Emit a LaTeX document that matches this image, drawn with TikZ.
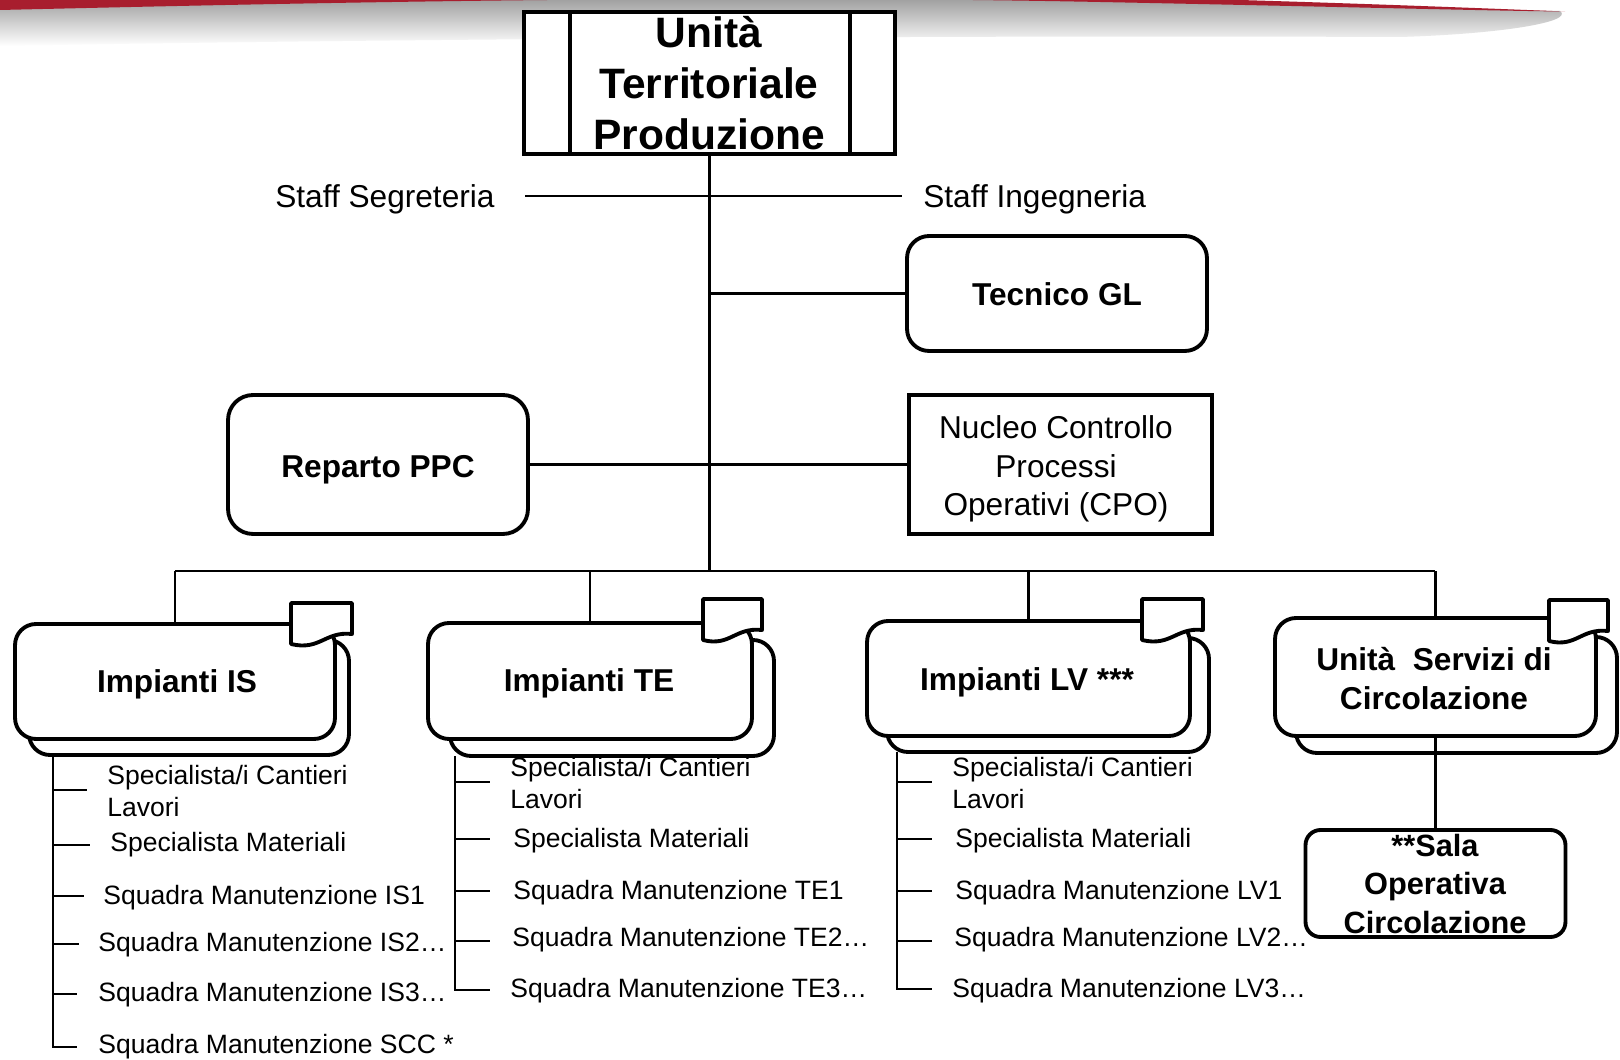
\documentclass[tikz,border=0pt]{standalone}
\usepackage{fontspec}
\setmainfont{Liberation Sans}
\usetikzlibrary{calc}
\definecolor{swred}{RGB}{168,30,46}
\begin{document}
\begin{tikzpicture}[x=0.02cm,y=-0.02cm,
  thickbox/.style={draw=black,line width=2.2pt,fill=white,inner sep=0pt},
  conn/.style={draw=black,line width=1.2pt},
  listline/.style={draw=black,line width=1.3pt},
  txt/.style={font=\fontsize{18}{22}\selectfont,inner sep=0pt,align=center},
  btxt/.style={font=\fontsize{18}{22}\selectfont\bfseries,inner sep=0pt,align=center},
  ltxt/.style={font=\fontsize{15.1}{18.2}\selectfont,inner sep=0pt,align=left,anchor=west},
  roundbox/.style={thickbox,rounded corners=0.42cm},
  tabshape/.style={draw=black,line width=2.2pt,fill=white,line join=round},
]
\useasboundingbox (0,0) rectangle (1620,1060);
\fill[white] (0,0) rectangle (1620,1060);
% header swoosh
\begin{scope}
  \clip (0,0) rectangle (1620,1060);
  \shade[top color=black!42,bottom color=white]
    (0,8) .. controls (300,2) and (700,-7) .. (1100,1)
    .. controls (1350,6) and (1500,10) .. (1560,11)
    .. controls (1575,22) and (1500,34) .. (1400,37)
    .. controls (900,35) and (300,40) .. (0,46) -- cycle;
  \fill[swred]
    (0,10) .. controls (300,3) and (700,-6) .. (1100,2)
    .. controls (1350,7) and (1500,11) .. (1565,11.5)
    .. controls (1450,7) and (1250,-1) .. (1000,-6) -- (0,-10) -- cycle;
\end{scope}

% top unit
\node[thickbox,minimum width=7.42cm,minimum height=2.84cm] (utp) at (709.5,83) {};
\node[inner sep=0pt,align=center,font=\fontsize{24.2}{29}\selectfont\bfseries] (utpl) at (709,83) {Unità\\Territoriale\\Produzione};
\draw[line width=2.2pt] ([xshift=0.96cm]utp.north west) -- ([xshift=0.96cm]utp.south west);
\draw[line width=2.2pt] ([xshift=-0.94cm]utp.north east) -- ([xshift=-0.94cm]utp.south east);

% staff
\node[txt,anchor=west] (sseg) at (275,199) {Staff Segreteria};
\node[txt,anchor=west] (sing) at (923,199) {Staff Ingegneria};
\coordinate (sl) at (525,196);
\coordinate (sr) at (902,196);
\draw[conn] (sl) -- (sr);

% main spine and bus
\coordinate (busC) at (709.5,571);
\coordinate (busL) at (175,571);
\coordinate (busR) at (1435,571);
\draw[conn] (utp.south) -- (busC);
\draw[conn] (busL) -- (busR);

% Tecnico GL
\node[roundbox,minimum width=6.0cm,minimum height=2.3cm,rounded corners=0.44cm] (tec) at (1057,293.5) {};
\node[btxt] (tecl) at (1057,294.5) {Tecnico GL};
\draw[conn] (tec.west) -- (tec.west -| busC);

% Reparto PPC and CPO
\node[roundbox,minimum width=6.0cm,minimum height=2.78cm,rounded corners=0.5cm] (ppc) at (378,464.5) {};
\node[btxt] (ppcl) at (378,469.5) {Reparto PPC};
\node[thickbox,minimum width=6.06cm,minimum height=2.78cm] (cpo) at (1060.5,464.5) {};
\node[txt] (cpol) at (1056,469) {Nucleo Controllo\\Processi\\Operativi (CPO)};
\draw[conn] (ppc.east) -- (cpo.west);

% ---------- Impianti IS
\draw[roundbox] (29,640) rectangle (349,755);
\node[roundbox,minimum width=6.4cm,minimum height=2.3cm] (is) at (175,681.5) {};
\node[btxt] (isl) at (177,684.5) {Impianti IS};
\draw[tabshape] (291,644) -- (291,603) -- (352,603) -- (352,634) .. controls (325,631) and (320,651) .. (291,644) -- cycle;
\draw[conn] (is.north) -- (is.north |- busL);

% ---------- Impianti TE
\draw[roundbox] (450,640) rectangle (774,756);
\node[roundbox,minimum width=6.48cm,minimum height=2.32cm] (te) at (590,681) {};
\node[btxt] (tel) at (589,683) {Impianti TE};
\draw[tabshape] (703,640) -- (703,599) -- (762,599) -- (762,630) .. controls (735,627) and (730,647) .. (703,640) -- cycle;
\draw[conn] (te.north) -- (te.north |- busL);

% ---------- Impianti LV
\draw[roundbox] (887,638) rectangle (1209,752);
\node[roundbox,minimum width=6.46cm,minimum height=2.3cm] (lv) at (1028.5,678.5) {};
\node[btxt] (lvl) at (1027,682) {Impianti LV ***};
\draw[tabshape] (1142,640) -- (1142,599) -- (1203,599) -- (1203,630) .. controls (1176,627) and (1171,647) .. (1142,640) -- cycle;
\draw[conn] (lv.north) -- (lv.north |- busL);

% ---------- Unita Servizi di Circolazione
\draw[roundbox] (1296,637) rectangle (1617,753);
\node[roundbox,minimum width=6.42cm,minimum height=2.36cm] (usc) at (1435.5,677) {};
\node[btxt] (uscl) at (1434,678.5) {Unità\ \ Servizi di\\Circolazione};
\draw[tabshape] (1549,641) -- (1549,600) -- (1608,600) -- (1608,631) .. controls (1581,628) and (1576,648) .. (1549,641) -- cycle;
\draw[conn] (usc.north) -- (usc.north |- busR);

% Sala Operativa
\node[roundbox,minimum width=5.2cm,minimum height=2.14cm,rounded corners=0.3cm] (sala) at (1435.5,883.5) {};
\node[btxt,font=\fontsize{17.5}{21.7}\selectfont\bfseries] (salal) at (1435,884) {**Sala\\Operativa\\Circolazione};
\draw[conn] (usc.south) -- (sala.north);

% ---------- IS list
\coordinate (isv) at (53,755);
\coordinate (ist1) at (87,790);
\coordinate (ist2) at (90,845);
\coordinate (ist3) at (84,896);
\coordinate (ist4) at (79,944);
\coordinate (ist5) at (77,994);
\coordinate (ist6) at (77,1047);
\draw[listline] (isv) |- (ist6);
\foreach \t in {ist1,ist2,ist3,ist4,ist5} \draw[listline] (\t -| isv) -- (\t);
\node[ltxt] (isa) at (107,791) {Specialista/i Cantieri\\Lavori};
\node[ltxt] (isb) at (110,845) {Specialista Materiali};
\node[ltxt] (isc) at (103,898) {Squadra Manutenzione IS1};
\node[ltxt] (isd) at (98,945) {Squadra Manutenzione IS2…};
\node[ltxt] (ise) at (98,995) {Squadra Manutenzione IS3…};
\node[ltxt] (isf) at (98,1047) {Squadra Manutenzione SCC *};

% ---------- TE list
\coordinate (tev) at (455,756);
\coordinate (tet1) at (490,782);
\coordinate (tet2) at (490,839);
\coordinate (tet3) at (490,891);
\coordinate (tet4) at (490,941);
\coordinate (tet5) at (490,990);
\draw[listline] (tev) |- (tet5);
\foreach \t in {tet1,tet2,tet3,tet4} \draw[listline] (\t -| tev) -- (\t);
\node[ltxt] (tea) at (510,783) {Specialista/i Cantieri\\Lavori};
\node[ltxt] (teb) at (513,841) {Specialista Materiali};
\node[ltxt] (tec1) at (513,893) {Squadra Manutenzione TE1};
\node[ltxt] (ted) at (512,940) {Squadra Manutenzione TE2…};
\node[ltxt] (tee) at (510,991) {Squadra Manutenzione TE3…};

% ---------- LV list
\coordinate (lvv) at (897,752);
\coordinate (lvt1) at (932,782);
\coordinate (lvt2) at (932,839);
\coordinate (lvt3) at (932,891);
\coordinate (lvt4) at (932,941);
\coordinate (lvt5) at (932,989);
\draw[listline] (lvv) |- (lvt5);
\foreach \t in {lvt1,lvt2,lvt3,lvt4} \draw[listline] (\t -| lvv) -- (\t);
\node[ltxt] (lva) at (952,783) {Specialista/i Cantieri\\Lavori};
\node[ltxt] (lvb) at (955,841) {Specialista Materiali};
\node[ltxt] (lvc) at (955,893) {Squadra Manutenzione LV1};
\node[ltxt] (lvd) at (954,940) {Squadra Manutenzione LV2…};
\node[ltxt] (lve) at (952,991) {Squadra Manutenzione LV3…};
\end{tikzpicture}
\end{document}
